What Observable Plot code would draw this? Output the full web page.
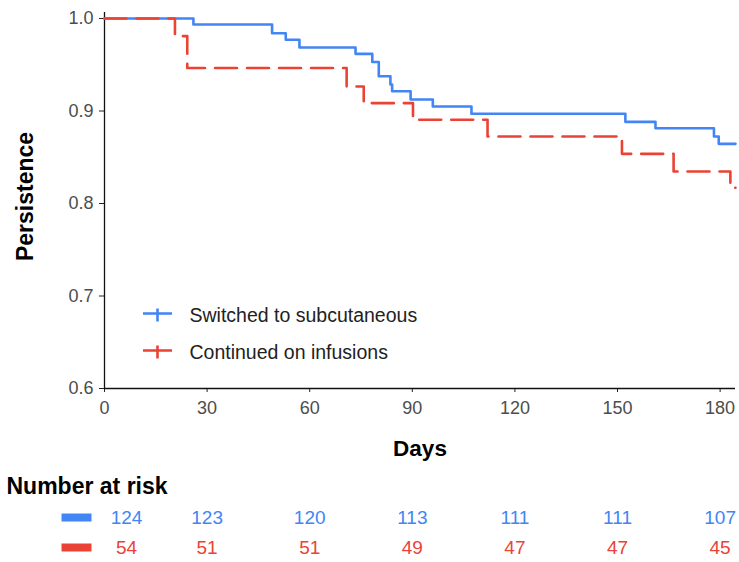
<!DOCTYPE html>
<html><head><meta charset="utf-8">
<script src="https://cdn.jsdelivr.net/npm/d3@7"></script>
<script src="https://cdn.jsdelivr.net/npm/@observablehq/plot@0.6"></script>
<style>
body{margin:0;background:#fff;}
#chart svg{display:block;}
</style></head><body><div id="chart"></div>
<script>
const seriesNames = ["Switched to subcutaneous", "Continued on infusions"];
const seriesColors = ["#4285f4", "#ea4335"];
const subcutDays = [0, 26, 49, 53, 57, 73.4, 78.3, 80.2, 83.6, 84.1, 89.5, 96, 107.3, 152.3, 161.1, 178.2, 179.6, 184.5];
const subcutSurv = [1, 0.9935, 0.984, 0.977, 0.9686, 0.9618, 0.953, 0.9376, 0.9286, 0.9214, 0.9124, 0.9049, 0.897, 0.8883, 0.8814, 0.8724, 0.8645, 0.8645];
const infusionDays = [0, 20.6, 24.2, 70.8, 75.8, 90.2, 112, 151.3, 166.4, 183, 184.5];
const infusionSurv = [1, 0.981, 0.9465, 0.9265, 0.9085, 0.8905, 0.8724, 0.8537, 0.8346, 0.817, 0.817];
const xTicks = [0, 30, 60, 90, 120, 150, 180];
const yTicks = [0.6, 0.7, 0.8, 0.9, 1.0];
const riskDays = [0, 30, 60, 90, 120, 150, 180];
const riskSubcut = [124, 123, 120, 113, 111, 111, 107];
const riskInfusion = [54, 51, 51, 49, 47, 47, 45];

const FONT = "'Liberation Sans', Arial, sans-serif";
const xDomain = [0, 184.5];

const subcut = subcutDays.map((d, i) => ({day: d, surv: subcutSurv[i]}));
const infusion = infusionDays.map((d, i) => ({day: d, surv: infusionSurv[i]}));

const crossSymbol = {
  draw(ctx, size) {
    ctx.moveTo(-14.5, -2); ctx.lineTo(14.5, -2);
    ctx.moveTo(0, -7); ctx.lineTo(0, 6);
  }
};
const swatchSymbol = {
  draw(ctx, size) {
    ctx.moveTo(-15, -4); ctx.lineTo(15, -4); ctx.lineTo(15, 4); ctx.lineTo(-15, 4); ctx.closePath();
  }
};

const legendMarks = seriesNames.flatMap((name, i) => [
  Plot.dot([name], {frameAnchor: "bottom-left", dx: 53, dy: -73 + i * 37, symbol: crossSymbol, r: 5, stroke: seriesColors[i], strokeWidth: 2.6, fill: "none"}),
  Plot.text([name], {frameAnchor: "bottom-left", dx: 85, dy: -73 + i * 37, text: d => d, textAnchor: "start", lineAnchor: "middle", fontSize: 19.5, fill: "#222"})
]);

const main = Plot.plot({
  width: 739, height: 470,
  marginLeft: 104, marginRight: 4, marginTop: 12, marginBottom: 82,
  style: {fontFamily: FONT, background: "#fff"},
  x: {domain: xDomain},
  y: {domain: [0.6, 1.0065]},
  marks: [
    Plot.axisX({ticks: xTicks, tickSize: 4, tickPadding: 9, fontSize: 18, label: null, stroke: "#222", fill: "#4d4d4d"}),
    Plot.axisY({ticks: yTicks, tickFormat: d3.format(".1f"), tickSize: 5, tickPadding: 6, fontSize: 18, label: null, stroke: "#222", fill: "#4d4d4d"}),
    Plot.ruleX([0], {stroke: "#111", strokeWidth: 1.3}),
    Plot.ruleY([0.6], {stroke: "#111", strokeWidth: 1.3}),
    Plot.line(subcut, {x: "day", y: "surv", curve: "step-after", stroke: seriesColors[0], strokeWidth: 2.6}),
    Plot.line(infusion, {x: "day", y: "surv", curve: "step-after", stroke: seriesColors[1], strokeWidth: 2.6, strokeDasharray: "22 10"}),
    ...legendMarks,
    Plot.text(["Days"], {frameAnchor: "bottom", dy: 60, text: d => d, lineAnchor: "middle", fontWeight: "bold", fontSize: 22.5, fill: "#000"}),
    Plot.text(["Persistence"], {frameAnchor: "left", dx: -79, dy: -4, rotate: -90, text: d => d, textAnchor: "middle", fontWeight: "bold", fontSize: 23, fill: "#000"})
  ]
});

const riskRows = [
  ...riskDays.map((d, i) => ({series: seriesNames[0], day: d, n: riskSubcut[i], color: seriesColors[0]})),
  ...riskDays.map((d, i) => ({series: seriesNames[1], day: d, n: riskInfusion[i], color: seriesColors[1]}))
];

const risk = Plot.plot({
  width: 739, height: 92,
  marginLeft: 104, marginRight: 4, marginTop: 47, marginBottom: 15,
  style: {fontFamily: FONT, background: "#fff"},
  x: {domain: xDomain, axis: null},
  y: {type: "point", domain: seriesNames, padding: 0, axis: null},
  marks: [
    Plot.text(["Number at risk"], {frameAnchor: "top-left", dx: -98, dy: -31, text: d => d, textAnchor: "start", lineAnchor: "middle", fontWeight: "bold", fontSize: 23, fill: "#000"}),
    Plot.dot(seriesNames, {y: d => d, frameAnchor: "left", dx: -28, symbol: swatchSymbol, r: 5, fill: d => seriesColors[seriesNames.indexOf(d)], stroke: "none"}),
    Plot.text(riskRows, {filter: d => d.day === 0, x: "day", y: "series", text: d => String(d.n), dx: 22, fontSize: 19, fill: d => d.color}),
    Plot.text(riskRows, {filter: d => d.day !== 0, x: "day", y: "series", text: d => String(d.n), fontSize: 19, fill: d => d.color})
  ]
});

document.getElementById("chart").append(main, risk);
</script></body></html>
